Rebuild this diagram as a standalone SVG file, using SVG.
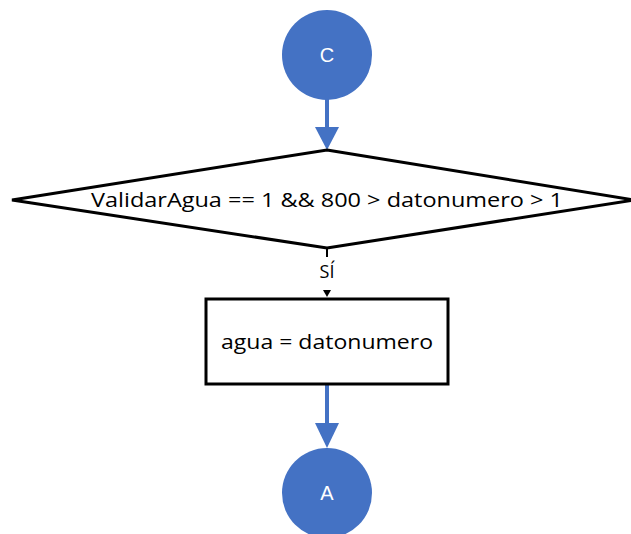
<svg xmlns="http://www.w3.org/2000/svg" width="631" height="534" viewBox="0 0 631 534">
<style>
.conn{fill:#4472C4;stroke:none}
.circ{fill:#4472C4;stroke:none}
.ctext{font-family:"Liberation Sans",Arial,sans-serif;font-size:20px;fill:#fff;text-anchor:middle}
.shape{fill:#fff;stroke:#000;stroke-width:3}
.t{font-family:"Open Sans","Liberation Sans",sans-serif;font-size:20px;fill:#000;text-anchor:middle}
</style>
<rect width="631" height="534" fill="#fff"/>
<g id="connectors">
<rect class="conn" x="325" y="99" width="4" height="28"/>
<polygon class="conn" points="315,127 339,127 327,150"/>
<line x1="327" y1="248" x2="327" y2="257" stroke="#000" stroke-width="2"/>
<polygon fill="#000" points="323,290 331,290 327,297"/>
<rect class="conn" x="325" y="385" width="4" height="38"/>
<polygon class="conn" points="315,423 339,423 327,448"/>
<text class="t" x="327" y="278" font-size="18" style="font-size:18px">SÍ</text>
</g>
<g id="node-c">
<circle class="circ" cx="327" cy="55" r="45"/>
<text class="ctext" x="327" y="62">C</text>
</g>
<g id="node-decision">
<polygon class="shape" points="327,150 634,200 327,248 12,200"/>
<text class="t" x="327" y="207" textLength="472" lengthAdjust="spacingAndGlyphs">ValidarAgua == 1 &amp;&amp; 800 &gt; datonumero &gt; 1</text>
</g>
<g id="node-process">
<rect class="shape" x="206" y="299" width="242" height="85"/>
<text class="t" x="327" y="349" textLength="212" lengthAdjust="spacingAndGlyphs">agua = datonumero</text>
</g>
<g id="node-a">
<circle class="circ" cx="327" cy="493" r="45"/>
<text class="ctext" x="327" y="500">A</text>
</g>
</svg>
